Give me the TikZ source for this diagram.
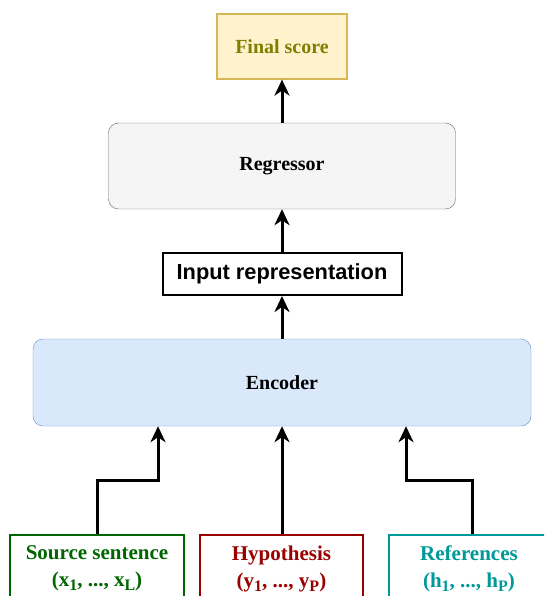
\documentclass[tikz,border=0pt]{standalone}
\usepackage{fontspec}
\setmainfont{Liberation Serif}
\setsansfont{Liberation Sans}
\usetikzlibrary{arrows.meta}
\definecolor{scorefill}{HTML}{FFF2CC}
\definecolor{scoredraw}{HTML}{D6B656}
\definecolor{scoretext}{HTML}{7F7F00}
\definecolor{regfill}{HTML}{F5F5F5}
\definecolor{regdraw}{HTML}{666666}
\definecolor{encfill}{HTML}{DAE8FC}
\definecolor{encdraw}{HTML}{6C8EBF}
\definecolor{srccol}{HTML}{006600}
\definecolor{hypcol}{HTML}{990000}
\definecolor{refcol}{HTML}{009999}
\newcommand{\lowsub}[1]{\raisebox{-4pt}{\fontsize{16}{16}\selectfont #1}}
\tikzset{
  blocktext/.style={font=\fontsize{20}{24}\selectfont\bfseries, inner sep=0pt},
  inbox/.style={blocktext, draw=#1, text=#1, line width=2pt, fill=white,
    align=center, font=\fontsize{21}{27}\selectfont\bfseries},
  arr/.style={line width=3pt, -{Stealth[length=16pt,width=15pt,inset=5pt]}}
}
\begin{document}
\begin{tikzpicture}[x=1pt,y=-1pt]
\useasboundingbox (0,0) rectangle (544,596);
\clip (0,0) rectangle (544,596);
\node[blocktext, draw=scoredraw, fill=scorefill, text=scoretext, line width=1.2pt,
  minimum width=130pt, minimum height=65pt] (score) at (282,46.5) {Final score};
\node[blocktext, draw=regdraw, fill=regfill, rounded corners=10pt,
  minimum width=347pt, minimum height=86pt] (reg) at (282,166) {Regressor};
\node[blocktext, draw=black, line width=2pt, font=\sffamily\fontsize{21.8}{24}\selectfont\bfseries,
  minimum width=239pt, minimum height=42pt] (repr) at (282,274) {Input representation};
\node[blocktext, draw=encdraw, fill=encfill, rounded corners=10pt,
  minimum width=498pt, minimum height=87pt] (enc) at (282,382.5) {Encoder};
% inputs
\node[inbox=srccol, minimum width=174pt, minimum height=67pt] (src) at (97,568.5)
  {Source sentence\\(x\lowsub{1}, ..., x\lowsub{L})};
\node[inbox=hypcol, minimum width=163pt, minimum height=67pt] (hyp) at (281.5,568.5)
  {Hypothesis\\(y\lowsub{1}, ..., y\lowsub{P})};
\node[inbox=refcol, minimum width=160pt, minimum height=67pt] (refs) at (469,568.5)
  {References\\(h\lowsub{1}, ..., h\lowsub{P})};
\draw[arr] (src.north) -- ++(0,-53.5) -| ([xshift=-124pt]enc.south);
\draw[arr] (hyp.north -| enc.south) -- (enc.south);
\draw[arr] (refs.north -| 472,0) -- ++(0,-53.5) -| ([xshift=124pt]enc.south);
\draw[arr] (enc.north) -- (repr.south);
\draw[arr] (repr.north) -- (reg.south);
\draw[arr] (reg.north) -- (score.south);
\end{tikzpicture}
\end{document}
